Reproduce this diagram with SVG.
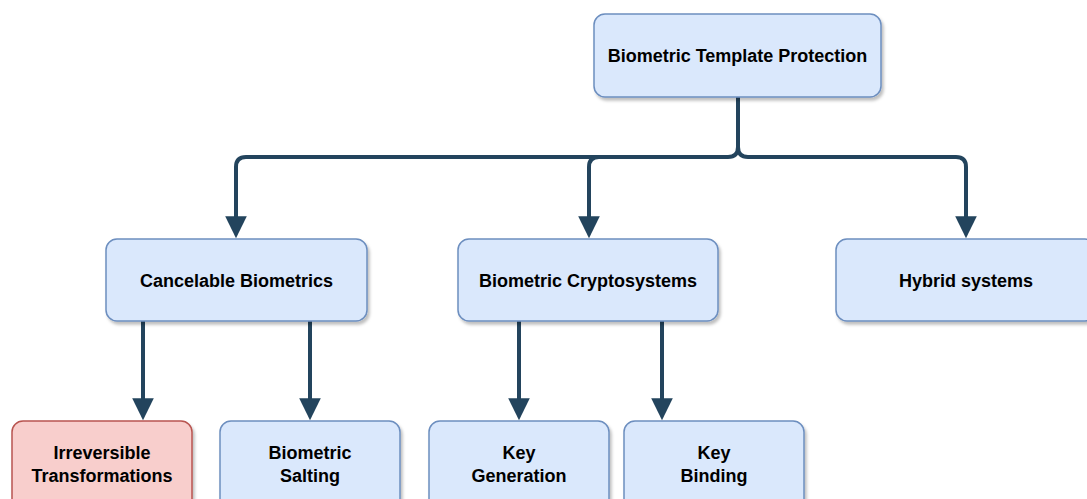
<svg xmlns="http://www.w3.org/2000/svg" width="1087" height="499" viewBox="0 0 1087 499">
<defs>
<filter id="sh" x="-10%" y="-10%" width="130%" height="140%">
<feDropShadow dx="2" dy="3" stdDeviation="1.5" flood-color="#000" flood-opacity="0.25"/>
</filter>
<marker id="arr" markerWidth="6" markerHeight="6" refX="0.2" refY="3" orient="auto" markerUnits="strokeWidth">
<path d="M0,0.3 L5.5,3 L0,5.7 Z" fill="#23445d"/>
</marker>
<style>
.n{fill:#dae8fc;stroke:#6c8ebf;stroke-width:1.5;filter:url(#sh)}
.r{fill:#f8cecc;stroke:#b85450;stroke-width:1.5;filter:url(#sh)}
.t{font-family:"Liberation Sans",Arial,sans-serif;font-weight:bold;font-size:18px;fill:#000;text-anchor:middle;dominant-baseline:central}
.c{fill:none;stroke:#23445d;stroke-width:4;stroke-linejoin:round}
</style>
</defs>
<rect width="1087" height="499" fill="#fff"/>
<g id="connectors">
<path class="c" d="M738,97 L738,147 Q738,157 728,157 L246,157 Q236,157 236,167 L236,217" marker-end="url(#arr)"/>
<path class="c" d="M738,147 Q738,157 748,157 L956,157 Q966,157 966,167 L966,217" marker-end="url(#arr)"/>
<path class="c" d="M599,157 Q589,157 589,167 L589,217" marker-end="url(#arr)"/>
<path class="c" d="M143,321 L143,399" marker-end="url(#arr)"/>
<path class="c" d="M310,321 L310,399" marker-end="url(#arr)"/>
<path class="c" d="M519,321 L519,399" marker-end="url(#arr)"/>
<path class="c" d="M662,321 L662,399" marker-end="url(#arr)"/>
</g>
<g id="root"><rect class="n" x="594" y="14" width="287" height="83" rx="11"/><text class="t" x="737.5" y="56">Biometric Template Protection</text></g>
<g id="cancelable"><rect class="n" x="106" y="239" width="261" height="82" rx="11"/><text class="t" x="236.5" y="281">Cancelable Biometrics</text></g>
<g id="crypto"><rect class="n" x="458" y="239" width="260" height="82" rx="11"/><text class="t" x="588" y="281">Biometric Cryptosystems</text></g>
<g id="hybrid"><rect class="n" x="836" y="239" width="260" height="82" rx="11"/><text class="t" x="966" y="281">Hybrid systems</text></g>
<g id="irreversible"><rect class="r" x="12" y="421" width="180" height="90" rx="11"/><text class="t" x="102" y="453">Irreversible</text><text class="t" x="102" y="476">Transformations</text></g>
<g id="salting"><rect class="n" x="220" y="421" width="180" height="90" rx="11"/><text class="t" x="310" y="453">Biometric</text><text class="t" x="310" y="476">Salting</text></g>
<g id="keygen"><rect class="n" x="429" y="421" width="180" height="90" rx="11"/><text class="t" x="519" y="453">Key</text><text class="t" x="519" y="476">Generation</text></g>
<g id="keybind"><rect class="n" x="624" y="421" width="180" height="90" rx="11"/><text class="t" x="714" y="453">Key</text><text class="t" x="714" y="476">Binding</text></g>
</svg>
